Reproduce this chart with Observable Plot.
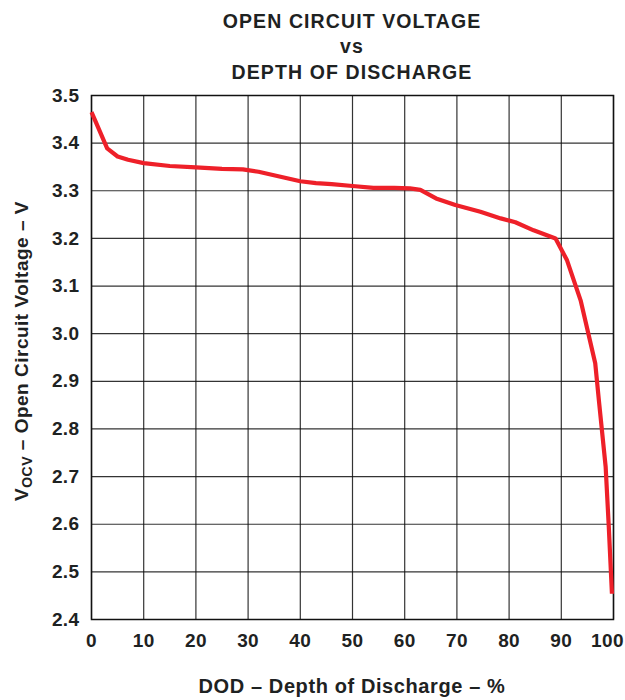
<!DOCTYPE html>
<html>
<head>
<meta charset="utf-8">
<script src="https://cdn.jsdelivr.net/npm/d3@7"></script>
<script src="https://cdn.jsdelivr.net/npm/@observablehq/plot@0.6"></script>
<style>
  html, body { margin: 0; padding: 0; background: #fff; }
  #chart svg { display: block; }
</style>
</head>
<body>
<div id="chart"></div>
<script>
// Data
const dod = [0, 1, 3, 5, 7, 10, 15, 20, 25, 29, 32, 36, 40, 43, 46, 50, 54, 58, 61, 63, 66, 69.7, 74.5, 78.4, 81.2, 84.7, 88.9, 91.1, 93.7, 96.5, 97.2, 98.5, 99.1, 99.7];
const vocv = [3.465, 3.44, 3.389, 3.372, 3.365, 3.358, 3.352, 3.349, 3.346, 3.345, 3.34, 3.33, 3.32, 3.316, 3.314, 3.31, 3.306, 3.306, 3.305, 3.302, 3.284, 3.270, 3.256, 3.242, 3.234, 3.217, 3.200, 3.154, 3.070, 2.938, 2.86, 2.72, 2.594, 2.454];
const xTicks = [0, 10, 20, 30, 40, 50, 60, 70, 80, 90, 100];
const yTicks = [2.4, 2.5, 2.6, 2.7, 2.8, 2.9, 3.0, 3.1, 3.2, 3.3, 3.4, 3.5];
const titleLines = ["OPEN CIRCUIT VOLTAGE", "vs", "DEPTH OF DISCHARGE"];
const xLabel = "DOD – Depth of Discharge – %";

const data = dod.map((d, i) => ({dod: d, v: vocv[i]}));
const font = "'Liberation Sans', Arial, Helvetica, sans-serif";
const ink = "#1e2222";

const chart = Plot.plot({
  width: 625,
  height: 700,
  marginLeft: 91,
  marginRight: 12,
  marginTop: 95,
  marginBottom: 81,
  style: {fontFamily: font, fontSize: "19px", fontWeight: "bold", color: ink, background: "#fff", letterSpacing: "0.4px"},
  x: {domain: [0, 100]},
  y: {domain: [2.4, 3.5]},
  marks: [
    Plot.gridX(xTicks, {stroke: "#111", strokeOpacity: 0.85, strokeWidth: 1.2}),
    Plot.gridY(yTicks, {stroke: "#111", strokeOpacity: 0.85, strokeWidth: 1.2}),
    Plot.frame({stroke: "#111", strokeWidth: 1.5}),
    Plot.line(data, {x: "dod", y: "v", stroke: "#ee2029", strokeWidth: 4.2, strokeLinejoin: "round", strokeLinecap: "butt"}),
    Plot.axisX(xTicks.filter(t => t < 100), {tickSize: 0, tickPadding: 14, label: null, fill: ink}),
    Plot.axisX(xTicks.filter(t => t === 100), {tickSize: 0, tickPadding: 14, label: null, fill: ink, dx: -6}),
    Plot.axisY(yTicks, {tickSize: 0, tickPadding: 12, label: null, tickFormat: d3.format(".1f"), fill: ink})
  ]
});

document.getElementById("chart").appendChild(chart);

const svg = d3.select(chart);
const cx = 352;
// Title
const titleY = [28, 53, 79];
titleLines.forEach((t, i) => {
  svg.append("text")
    .attr("x", cx).attr("y", titleY[i])
    .attr("text-anchor", "middle")
    .attr("font-family", font).attr("font-size", 19.5).attr("font-weight", "bold")
    .attr("letter-spacing", "1.1px")
    .attr("fill", ink)
    .text(t);
});
// X label
svg.append("text")
  .attr("x", cx).attr("y", 693)
  .attr("text-anchor", "middle")
  .attr("font-family", font).attr("font-size", 20).attr("font-weight", "bold")
  .attr("letter-spacing", "0.6px")
  .attr("fill", ink)
  .text(xLabel);
// Y label with subscript
const yl = svg.append("text")
  .attr("transform", "translate(28,351) rotate(-90)")
  .attr("text-anchor", "middle")
  .attr("font-family", font).attr("font-size", 19).attr("font-weight", "bold")
  .attr("letter-spacing", "0.5px")
  .attr("fill", ink);
yl.append("tspan").text("V");
yl.append("tspan").attr("font-size", 14).attr("dy", 4).text("OCV");
yl.append("tspan").attr("dy", -4).text(" – Open Circuit Voltage – V");
</script>
</body>
</html>
